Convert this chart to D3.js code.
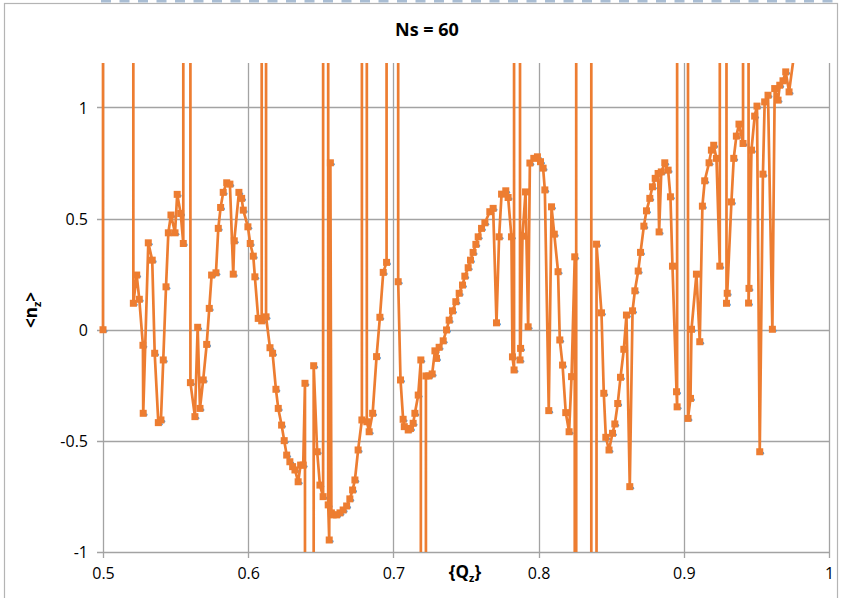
<!DOCTYPE html>
<html>
<head>
<meta charset="utf-8">
<script src="https://cdn.jsdelivr.net/npm/d3@7"></script>
<style>
  html, body { margin: 0; padding: 0; background: #fff; }
  svg { display: block; }
  text { font-family: "Open Sans", "Liberation Sans", sans-serif; }
</style>
</head>
<body>
<svg id="chart" width="841" height="598"></svg>
<script>
// <n_z> as a function of {Q_z} for Ns = 60.
// Points with |value| = 1000 are divergences; the plot clips them.
const qz = [
  0.5000, 0.5100, 0.5209, 0.5232, 0.5250, 0.5275, 0.5277, 0.5312, 0.5339, 0.5356,
  0.5381, 0.5399, 0.5415, 0.5434, 0.5450, 0.5468, 0.5496, 0.5511, 0.5535, 0.5553,
  0.5580, 0.5602, 0.5633, 0.5652, 0.5668, 0.5690, 0.5714, 0.5732, 0.5748, 0.5778,
  0.5794, 0.5810, 0.5828, 0.5852, 0.5874, 0.5897, 0.5904, 0.5936, 0.5955, 0.5966,
  0.5998, 0.6014, 0.6035, 0.6046, 0.6069, 0.6093, 0.6110, 0.6123, 0.6150, 0.6168,
  0.6191, 0.6207, 0.6230, 0.6248, 0.6265, 0.6287, 0.6306, 0.6322, 0.6344, 0.6361,
  0.6379, 0.6391, 0.6420, 0.6451, 0.6475, 0.6494, 0.6516, 0.6535, 0.6551, 0.6558,
  0.6566, 0.6573, 0.6585, 0.6609, 0.6632, 0.6654, 0.6678, 0.6700, 0.6719, 0.6735,
  0.6757, 0.6783, 0.6800, 0.6817, 0.6833, 0.6857, 0.6884, 0.6907, 0.6930, 0.6953,
  0.6990, 0.7033, 0.7049, 0.7067, 0.7075, 0.7102, 0.7118, 0.7136, 0.7148, 0.7171,
  0.7189, 0.7205, 0.7224, 0.7244, 0.7267, 0.7286, 0.7297, 0.7315, 0.7343, 0.7366,
  0.7384, 0.7407, 0.7430, 0.7453, 0.7476, 0.7492, 0.7515, 0.7531, 0.7549, 0.7568,
  0.7584, 0.7607, 0.7630, 0.7664, 0.7687, 0.7710, 0.7728, 0.7745, 0.7774, 0.7790,
  0.7813, 0.7820, 0.7831, 0.7850, 0.7872, 0.7876, 0.7889, 0.7910, 0.7928, 0.7940,
  0.7967, 0.7992, 0.8013, 0.8031, 0.8043, 0.8070, 0.8089, 0.8108, 0.8134, 0.8146,
  0.8165, 0.8187, 0.8210, 0.8227, 0.8249, 0.8256, 0.8262, 0.8360, 0.8366, 0.8399,
  0.8433, 0.8449, 0.8463, 0.8485, 0.8509, 0.8525, 0.8545, 0.8564, 0.8587, 0.8605,
  0.8628, 0.8647, 0.8663, 0.8686, 0.8702, 0.8725, 0.8743, 0.8766, 0.8784, 0.8803,
  0.8823, 0.8830, 0.8845, 0.8869, 0.8892, 0.8908, 0.8922, 0.8950, 0.8954, 0.8990,
  0.9029, 0.9046, 0.9053, 0.9087, 0.9110, 0.9128, 0.9144, 0.9174, 0.9190, 0.9206,
  0.9225, 0.9248, 0.9270, 0.9294, 0.9299, 0.9328, 0.9344, 0.9362, 0.9380, 0.9408,
  0.9430, 0.9446, 0.9449, 0.9466, 0.9488, 0.9504, 0.9523, 0.9545, 0.9557, 0.9580,
  0.9610, 0.9626, 0.9649, 0.9661, 0.9683, 0.9702, 0.9725, 0.9762
];
const nz = [
  0.000, 1000, 0.119, 0.246, 0.137, -0.070, -0.376, 0.391, 0.313, -0.106,
  -0.418, -0.406, -0.136, 0.193, 0.436, 0.516, 0.436, 0.609, 0.523, 0.388,
  1000, -0.238, -0.391, 0.011, -0.354, -0.226, -0.066, 0.096, 0.246, 0.256,
  0.456, 0.550, 0.618, 0.661, 0.655, 0.250, 0.400, 0.618, 0.591, 0.538,
  0.463, 0.388, 0.331, 0.238, 0.051, 0.040, 1000, 0.058, -0.081, -0.106,
  -0.268, -0.354, -0.429, -0.499, -0.564, -0.594, -0.616, -0.631, -0.684, -0.609,
  -0.609, -0.241, -1000, -0.162, -0.549, -0.699, -0.751, 1000, -0.788, -0.946,
  0.751, -0.824, -0.833, -0.833, -0.824, -0.811, -0.793, -0.761, -0.721, -0.676,
  -0.541, -0.406, 1000, -0.414, -0.459, -0.376, -0.121, 0.056, 0.258, 0.303,
  1000, 0.216, -0.226, -0.403, -0.436, -0.451, -0.444, -0.421, -0.376, -0.294,
  -0.136, -1000, -0.208, -0.208, -0.199, -0.095, -0.129, -0.079, -0.050, -0.001,
  0.043, 0.085, 0.126, 0.164, 0.201, 0.241, 0.279, 0.313, 0.348, 0.384,
  0.418, 0.456, 0.481, 0.531, 0.546, 0.031, 0.418, 0.610, 0.625, 0.595,
  0.418, -0.122, -0.181, 1000, -0.136, -0.084, 0.421, 0.620, 0.013, 0.750,
  0.771, 0.778, 0.756, 0.727, 0.629, -0.364, 0.553, 0.430, 0.261, -0.046,
  -0.159, -0.373, -0.459, -0.211, 0.328, -1000, 1000, 1000, -1000, 0.385,
  0.076, -0.286, -0.484, -0.541, -0.466, -0.424, -0.332, -0.214, -0.088, 0.066,
  -0.706, 0.085, 0.175, 0.264, 0.348, 0.466, 0.535, 0.591, 0.643, 0.681,
  0.703, 0.440, 0.710, 0.751, 0.718, 0.598, 0.286, -0.279, -0.347, 1000,
  -0.399, -0.309, 0.002, 0.250, -0.054, 0.556, 0.670, 0.751, 0.808, 0.830,
  0.771, 0.286, 1000, 0.119, 0.164, 0.575, 0.771, 0.871, 0.925, 0.838,
  1000, 0.120, 0.186, 0.808, 0.961, 1.006, -0.549, 0.700, 1.025, 1.055,
  0.002, 1.085, 1.033, 1.100, 1.120, 1.160, 1.070, 1.250
];
const xTicks = [0.5, 0.6, 0.7, 0.8, 0.9, 1];
const yTicks = [-1, -0.5, 0, 0.5, 1];
const chartTitle = "Ns = 60";

const points = qz.map((q, i) => ({ q, n: nz[i] }));

const svg = d3.select("#chart");
const W = 841, H = 598;
const plot = { left: 103, right: 829, top: 63, bottom: 552 };

const x = d3.scaleLinear().domain([0.5, 1]).range([plot.left, plot.right]);
const y = d3.scaleLinear().domain([-1, 1.2]).range([plot.bottom, plot.top]);

const grid = "#a3a3a3";
const orange = "#ED7D31";
const blue = "#5B9BD5";
const label = d => String(d);   // plain hyphen for negatives

svg.append("rect").attr("width", W).attr("height", H).attr("fill", "#fff");

// chart frame and dashed strip above it
svg.append("rect")
  .attr("x", 4.5).attr("y", 3.5).attr("width", 833).attr("height", 610)
  .attr("fill", "none").attr("stroke", "#b4b4b4").attr("stroke-width", 1.2);
svg.append("line")
  .attr("x1", 101).attr("x2", W).attr("y1", 1).attr("y2", 1)
  .attr("stroke", "#a9bdd3").attr("stroke-width", 3)
  .attr("stroke-dasharray", "10 8.5");

// gridlines
svg.append("g").selectAll("line").data(yTicks).join("line")
  .attr("x1", plot.left - 6).attr("x2", plot.right)
  .attr("y1", d => Math.round(y(d)) + 0.5).attr("y2", d => Math.round(y(d)) + 0.5)
  .attr("stroke", grid).attr("stroke-width", 1.3);
svg.append("g").selectAll("line").data(xTicks).join("line")
  .attr("x1", d => Math.round(x(d)) + 0.5).attr("x2", d => Math.round(x(d)) + 0.5)
  .attr("y1", plot.top).attr("y2", plot.bottom + 6)
  .attr("stroke", grid).attr("stroke-width", 1.3);

// axes via d3, tick lines hidden (gridlines above draw them)
const yAxis = d3.axisLeft(y).tickValues(yTicks).tickSize(0).tickPadding(0)
  .tickFormat(label);
const gy = svg.append("g").attr("transform", `translate(${plot.left - 15},0)`).call(yAxis);
gy.select(".domain").remove();
gy.selectAll("text").attr("font-size", 16).attr("fill", "#000")
  .attr("font-family", "'Open Sans', sans-serif").attr("dy", "0.35em");

const xAxis = d3.axisBottom(x).tickValues(xTicks).tickSize(0).tickPadding(0)
  .tickFormat(label);
const gx = svg.append("g").attr("transform", `translate(0,${plot.bottom + 16})`).call(xAxis);
gx.select(".domain").remove();
gx.selectAll("text").attr("font-size", 16).attr("fill", "#000")
  .attr("font-family", "'Open Sans', sans-serif").attr("dy", "0.71em");

// titles
svg.append("text")
  .attr("x", 427).attr("y", 36).attr("text-anchor", "middle")
  .attr("font-size", 18).attr("font-weight", "bold").text(chartTitle);

const xt = svg.append("text")
  .attr("x", 465).attr("y", 578).attr("text-anchor", "middle")
  .attr("font-size", 17).attr("font-weight", "bold");
xt.append("tspan").text("{Q");
xt.append("tspan").attr("font-size", 11).attr("dy", 4).text("z");
xt.append("tspan").attr("dy", -4).text("}");

const yt = svg.append("text")
  .attr("transform", "translate(37,310) rotate(-90)")
  .attr("text-anchor", "middle")
  .attr("font-size", 17).attr("font-weight", "bold");
yt.append("tspan").text("<n");
yt.append("tspan").attr("font-size", 11).attr("dy", 4).text("z");
yt.append("tspan").attr("dy", -4).text(">");

// clip to the plot band vertically
svg.append("clipPath").attr("id", "band")
  .append("rect").attr("x", 0).attr("y", plot.top).attr("width", W)
  .attr("height", plot.bottom - plot.top);

const line = d3.line().x(d => x(d.q)).y(d => y(d.n));
const visible = points.filter(d => d.n >= -1.02 && d.n <= 1.22);

const series = svg.append("g").attr("clip-path", "url(#band)");

// faint companion markers just below the orange squares
series.append("g").attr("transform", "translate(3,1.5)")
  .selectAll("circle").data(visible).join("circle")
  .attr("cx", d => x(d.q)).attr("cy", d => y(d.n)).attr("r", 1.4)
  .attr("fill", blue);

series.append("path").datum(points).attr("d", line)
  .attr("fill", "none").attr("stroke", orange).attr("stroke-width", 2.7)
  .attr("stroke-linejoin", "round");
series.selectAll("rect.m").data(visible).join("rect").attr("class", "m")
  .attr("x", d => x(d.q) - 3.5).attr("y", d => y(d.n) - 3.5)
  .attr("width", 7).attr("height", 7).attr("fill", orange);
</script>
</body>
</html>
